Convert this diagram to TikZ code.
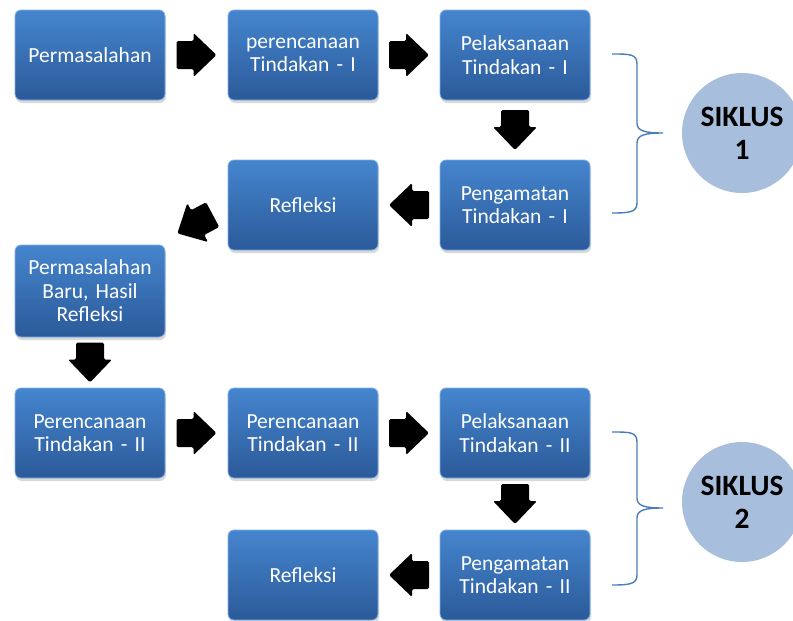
\documentclass[tikz,border=0pt]{standalone}
\usepackage{fontspec}
\setmainfont{Carlito}
\usetikzlibrary{calc,shadows}
\definecolor{boxtop}{HTML}{4585CE}
\definecolor{boxbot}{HTML}{2B5A99}
\definecolor{boxedge}{HTML}{7FB0E8}
\definecolor{bracecol}{HTML}{4A7EBB}
\definecolor{circfill}{HTML}{A7BFDD}
\tikzset{
  stepbox/.style={rounded corners=6pt, minimum width=150pt, minimum height=90pt,
    text width=146pt, align=center, top color=boxtop, bottom color=boxbot,
    draw=boxedge, line width=0.8pt, text=white,
    font=\fontsize{21.5}{23.5}\selectfont,
    drop shadow={opacity=0.3, shadow xshift=1pt, shadow yshift=-3pt}, inner sep=0pt},
  cyclebox/.style={circle, minimum size=120pt, fill=circfill, text=black,
    font=\bfseries\fontsize{29.5}{33}\selectfont, align=center, inner sep=0pt},
  bracepath/.style={draw=bracecol, line width=1.4pt},
  pics/blockarrow/.style={code={
    \fill[black, rounded corners=1.5pt, rotate=#1]
      (-20,-14) -- (-3,-14) -- (-3,-22) -- (20,0) -- (-3,22) -- (-3,14) -- (-20,14) -- cycle;}}
}
\begin{document}
\begin{tikzpicture}[x=1pt,y=-1pt]
\useasboundingbox (0,0) rectangle (793,621);
% row 1
\node[stepbox] (p1) at (90,55) {Permasalahan};
\node[stepbox] (r1a) at (303,55) {perencanaan\\Tindakan - I};
\node[stepbox] (r1b) at (515,55) {Pelaksanaan\\Tindakan - I};
% row 2
\node[stepbox] (r2b) at (515,205) {Pengamatan\\Tindakan - I};
\node[stepbox] (r2a) at (303,205) {Refleksi};
% row 3
\node[stepbox, minimum height=92pt] (pb) at (90,291) {Permasalahan\\Baru, Hasil\\Refleksi};
% row 4
\node[stepbox] (r4a) at (90,433) {Perencanaan\\Tindakan - II};
\node[stepbox] (r4b) at (303,433) {Perencanaan\\Tindakan - II};
\node[stepbox] (r4c) at (515,433) {Pelaksanaan\\Tindakan - II};
% row 5
\node[stepbox] (r5b) at (515,575) {Pengamatan\\Tindakan - II};
\node[stepbox] (r5a) at (303,575) {Refleksi};
% block arrows
\pic at ($(p1.east)!.5!(r1a.west)$) {blockarrow=0};
\pic at ($(r1a.east)!.5!(r1b.west)$) {blockarrow=0};
\pic at ($(r1b.south)!.5!(r2b.north)$) {blockarrow=-90};
\pic at ($(r2b.west)!.5!(r2a.east)$) {blockarrow=180};
\coordinate (diag) at (195,224);
\pic at (diag) {blockarrow=208};
\pic at ($(pb.south)!.5!(r4a.north)$) {blockarrow=-90};
\pic at ($(r4a.east)!.5!(r4b.west)$) {blockarrow=0};
\pic at ($(r4b.east)!.5!(r4c.west)$) {blockarrow=0};
\pic at ($(r4c.south)!.5!(r5b.north)$) {blockarrow=-90};
\pic at ($(r5b.west)!.5!(r5a.east)$) {blockarrow=180};
% braces
\draw[bracepath] (612,54) .. controls (630,54) and (637,54) .. (637,64) -- (637,123)
  .. controls (637,131) and (645,133) .. (663,133)
  .. controls (645,133) and (637,135) .. (637,143) -- (637,203)
  .. controls (637,212) and (630,213) .. (612,213);
\draw[bracepath] (612,432) .. controls (630,432) and (637,432) .. (637,442) -- (637,498)
  .. controls (637,506) and (645,508) .. (663,508)
  .. controls (645,508) and (637,510) .. (637,518) -- (637,575)
  .. controls (637,584) and (630,585) .. (612,585);
% cycles
\node[cyclebox] (s1) at (742,133) {SIKLUS\\1};
\node[cyclebox] (s2) at (742,502) {SIKLUS\\2};
\end{tikzpicture}
\end{document}
